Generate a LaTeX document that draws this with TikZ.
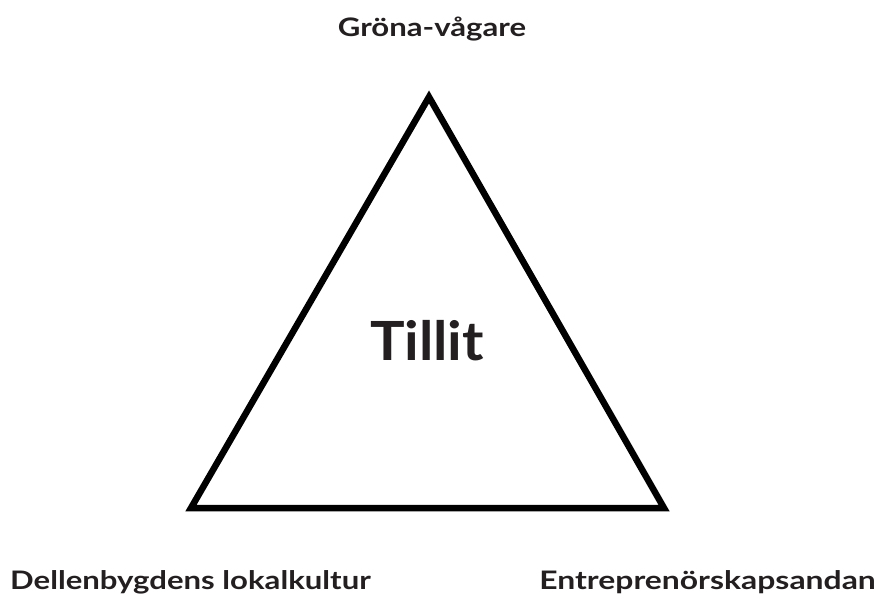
\documentclass[tikz,border=0pt]{standalone}
\usepackage{fontspec}
\setmainfont{Lato}
\newfontfamily\lblfont{Lato}[FakeStretch=1.22]
\newfontfamily\lblwidefont{Lato}[FakeStretch=1.25]
\newfontfamily\midfont{Lato}[FakeStretch=1.07]
\definecolor{ink}{HTML}{231F20}
\begin{document}
\begin{tikzpicture}[x=1pt,y=1pt,
  lbl/.style={font=\lblfont\fontsize{25.5}{30}\selectfont\bfseries, text=ink, inner sep=0pt},
  lblw/.style={font=\lblwidefont\fontsize{25.5}{30}\selectfont\bfseries, text=ink, inner sep=0pt},
  edge/.style={line width=6.5pt, line join=miter, black}]
\useasboundingbox (0,0) rectangle (879,598);
\coordinate (A) at (429,501);
\coordinate (B) at (191,90);
\coordinate (C) at (664,90);
\draw[edge] (A) -- (B) -- (C) -- cycle;
\node[lbl, anchor=base] (top) at (432,561) {Gröna-vågare};
\node[font=\midfont\fontsize{54}{60}\selectfont\bfseries, text=ink, inner sep=0pt, anchor=base] (mid) at (427,237) {Tillit};
\node[lbl, anchor=base west] (bl) at (10,9) {Dellenbygdens lokalkultur};
\node[lblw, anchor=base east] (br) at (876,9) {Entreprenörskapsandan};
\end{tikzpicture}
\end{document}
